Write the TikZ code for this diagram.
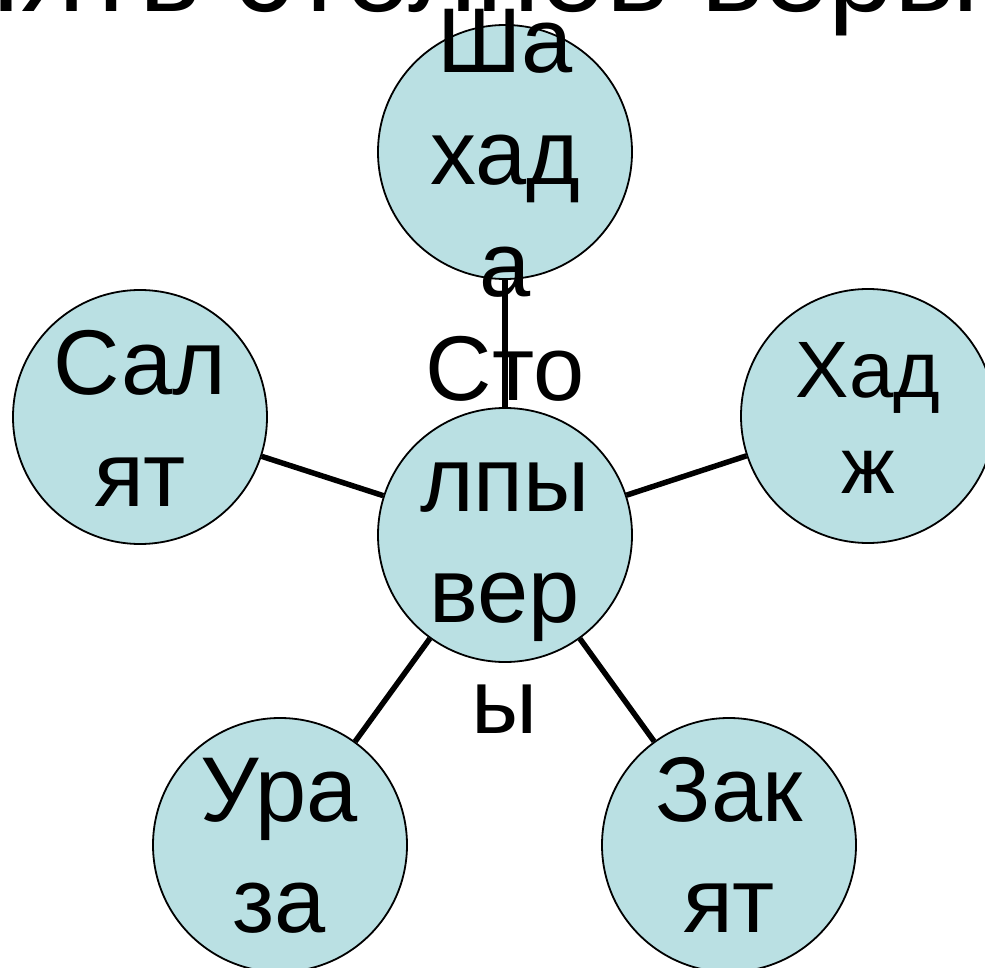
\documentclass[tikz,border=0pt]{standalone}
\usepackage{fontspec}
\setmainfont{Liberation Sans}
\definecolor{pillarfill}{RGB}{186,224,227}
\tikzset{
  pillar/.style={circle, draw=black, line width=1.8pt, fill=pillarfill, minimum size=254pt, inner sep=0pt},
  link/.style={line width=5.5pt, black},
  lbl/.style={anchor=base, inner sep=0pt, font=\fontsize{92}{110}\selectfont},
  lblsmall/.style={anchor=base, inner sep=0pt, font=\fontsize{80}{96}\selectfont},
  ttl/.style={anchor=base west, inner sep=0pt, font=\fontsize{118}{140}\selectfont}
}
\begin{document}
\begin{tikzpicture}[x=1pt,y=-1pt]
\useasboundingbox (0,0) rectangle (985,968);
\clip (0,0) rectangle (985,968);
% title (cut off at top)
\node[ttl] (title) at (-64,12) {Пять столпов веры};
% circles
\node[pillar] (c) at (505,535) {};
\node[pillar] (sh) at (505,152) {};
\node[pillar] (sa) at (140,417) {};
\node[pillar] (ha) at (868,416) {};
\node[pillar] (ur) at (280,845) {};
\node[pillar] (za) at (729,845) {};
% connectors
\draw[link] (c) -- (sh);
\draw[link] (c) -- (sa);
\draw[link] (c) -- (ha);
\draw[link] (c) -- (ur);
\draw[link] (c) -- (za);
% labels
\node[lbl] (c1) at (505,400) {Сто};
\node[lbl] (c2) at (505,511) {лпы};
\node[lbl] (c3) at (505,622) {вер};
\node[lbl] (c4) at (505,733) {ы};
\node[lbl] (sh1) at (505,73) {Ша};
\node[lbl] (sh2) at (505,185) {хад};
\node[lbl] (sh3) at (505,297) {а};
\node[lbl] (sa1) at (140,394) {Сал};
\node[lbl] (sa2) at (140,506) {ят};
\node[lblsmall] (ha1) at (868,397) {Хад};
\node[lblsmall] (ha2) at (868,493) {ж};
\node[lbl] (ur1) at (279,821) {Ура};
\node[lbl] (ur2) at (279,932) {за};
\node[lbl] (za1) at (729,821) {Зак};
\node[lbl] (za2) at (729,932) {ят};
\end{tikzpicture}
\end{document}
